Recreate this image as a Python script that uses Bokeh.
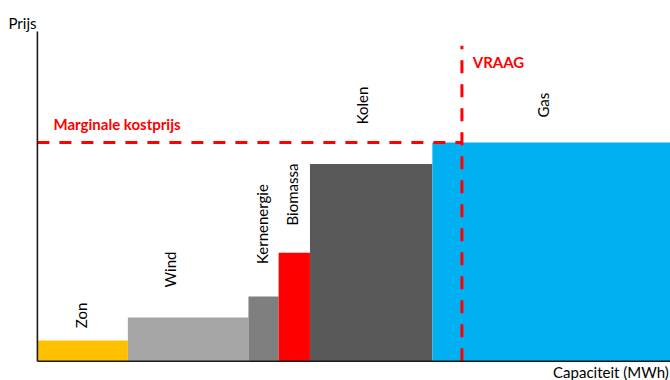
import math
from bokeh.plotting import figure
from bokeh.models import Label, Range1d
from bokeh.embed import file_html
from bokeh.resources import INLINE

# ---- data ----
categories = ["Zon", "Wind", "Kernenergie", "Biomassa", "Kolen", "Gas"]
capaciteit = [15, 20, 5, 5.2, 20.3, 39.5]      # MWh per technology
prijs = [6.3, 13.3, 19.7, 33.0, 60.0, 66.5]    # marginal cost
colors = ["#FFC000", "#A6A6A6", "#7F7F7F", "#FF0000", "#595959", "#00B0F0"]
vraag = 70.4          # demand (MWh)
marginale_prijs = 66.5

# label placement (style)
label_x = [7.2, 22.0, 37.3, 42.2, 53.9, 83.9]
label_y = [13.9, 27.9, 41.7, 50.7, 77.8, 77.9]

FONT = "Lato"
FS = "15px"

left, right = [], []
acc = 0
for c in capaciteit:
    left.append(acc)
    acc += c
    right.append(acc)

p = figure(width=670, height=380, output_backend="svg", toolbar_location=None,
           x_range=Range1d(-6.12, 104.99), y_range=Range1d(-5.87, 109.73),
           min_border=0)
p.xaxis.visible = False
p.yaxis.visible = False
p.xgrid.visible = False
p.ygrid.visible = False
p.outline_line_color = None
p.background_fill_color = "white"
p.border_fill_color = "white"

p.quad(left=left, right=right, bottom=0, top=prijs, fill_color=colors,
       line_color=None)

# marginal price line
p.line([0, vraag], [marginale_prijs, marginale_prijs], line_color="#FF0000",
       line_width=3, line_dash="12 10")
# demand line
p.line([vraag, vraag], [0, 96], line_color="#FF0000", line_width=3,
       line_dash="13 11")

# axis lines
p.segment(x0=[0, 0], y0=[0, 0], x1=[105, 0], y1=[0, 100.3],
          line_color="#1a1a1a", line_width=1.6)

for name, lx, ly in zip(categories, label_x, label_y):
    p.add_layout(Label(x=lx, y=ly, text=name, angle=math.pi / 2,
                       text_align="center", text_baseline="middle",
                       text_font=FONT, text_font_size=FS, text_color="black"))

p.add_layout(Label(x=2.67, y=72.2, text="Marginale kostprijs", text_align="left",
                   text_baseline="middle", text_font=FONT, text_font_size=FS,
                   text_font_style="bold", text_color="#FF0000"))
p.add_layout(Label(x=72.2, y=90.9, text="VRAAG", text_align="left",
                   text_baseline="middle", text_font=FONT, text_font_size=FS,
                   text_font_style="bold", text_color="#FF0000"))
p.add_layout(Label(x=-4.8, y=102.9, text="Prijs", text_align="left",
                   text_baseline="middle", text_font=FONT, text_font_size=FS,
                   text_color="black"))
p.add_layout(Label(x=104.7, y=-3.4, text="Capaciteit (MWh)", text_align="right",
                   text_baseline="middle", text_font=FONT, text_font_size=FS,
                   text_color="black"))

open("out.html", "w").write(file_html(p, INLINE))
